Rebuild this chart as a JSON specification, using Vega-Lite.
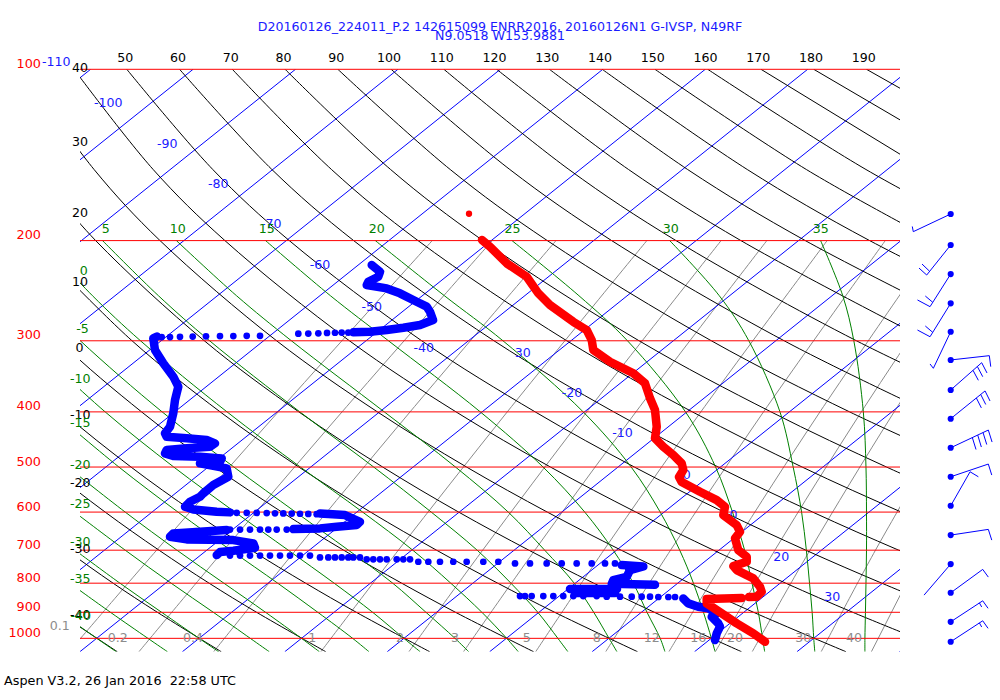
{
"$schema": "https://vega.github.io/schema/vega-lite/v6.json",
"width": 820, "height": 582.4,
"autosize": {"type": "none"},
"padding": {"left": 80, "top": 69.3, "right": 100, "bottom": 48.3},
"background": "white",
"config": {"view": {"stroke": null}, "font": "DejaVu Sans", "axis": {"labelFont": "DejaVu Sans"}, "text": {"font": "DejaVu Sans", "fontSize": 12.5}},
"datasets": {
"plines": [{"u":41.53,"u2":196.95,"p":100},{"u":41.53,"u2":196.95,"p":200},{"u":41.53,"u2":196.95,"p":300},{"u":41.53,"u2":196.95,"p":400},{"u":41.53,"u2":196.95,"p":500},{"u":41.53,"u2":196.95,"p":600},{"u":41.53,"u2":196.95,"p":700},{"u":41.53,"u2":196.95,"p":800},{"u":41.53,"u2":196.95,"p":900},{"u":41.53,"u2":196.95,"p":1000}],
"iso": [
{"id":-110,"u":43.54,"p":100},{"id":-110,"u":-94.39,"p":1055.6},
{"id":-100,"u":62.96,"p":100},{"id":-100,"u":-74.97,"p":1055.6},
{"id":-90,"u":82.37,"p":100},{"id":-90,"u":-55.56,"p":1055.6},
{"id":-80,"u":101.79,"p":100},{"id":-80,"u":-36.14,"p":1055.6},
{"id":-70,"u":121.2,"p":100},{"id":-70,"u":-16.73,"p":1055.6},
{"id":-60,"u":140.62,"p":100},{"id":-60,"u":2.69,"p":1055.6},
{"id":-50,"u":160.04,"p":100},{"id":-50,"u":22.11,"p":1055.6},
{"id":-40,"u":179.45,"p":100},{"id":-40,"u":41.52,"p":1055.6},
{"id":-30,"u":198.87,"p":100},{"id":-30,"u":60.94,"p":1055.6},
{"id":-20,"u":218.28,"p":100},{"id":-20,"u":80.35,"p":1055.6},
{"id":-10,"u":237.7,"p":100},{"id":-10,"u":99.77,"p":1055.6},
{"id":0,"u":257.11,"p":100},{"id":0,"u":119.18,"p":1055.6},
{"id":10,"u":276.53,"p":100},{"id":10,"u":138.6,"p":1055.6},
{"id":20,"u":295.94,"p":100},{"id":20,"u":158.01,"p":1055.6},
{"id":30,"u":315.36,"p":100},{"id":30,"u":177.43,"p":1055.6},
{"id":40,"u":334.77,"p":100},{"id":40,"u":196.84,"p":1055.6}],
"dry": [
{"id":-40,"u":29.6,"p":800},{"id":-40,"u":37.4,"p":900},{"id":-40,"u":48.6,"p":1055.6},
{"id":-30,"u":29.5,"p":600},{"id":-30,"u":39.0,"p":700},{"id":-30,"u":47.8,"p":800},{"id":-30,"u":56.2,"p":900},{"id":-30,"u":68.3,"p":1055.6},
{"id":-20,"u":23.3,"p":400},{"id":-20,"u":35.3,"p":500},{"id":-20,"u":46.3,"p":600},{"id":-20,"u":56.5,"p":700},{"id":-20,"u":66.0,"p":800},{"id":-20,"u":75.0,"p":900},{"id":-20,"u":88.1,"p":1055.6},
{"id":-10,"u":23.9,"p":300},{"id":-10,"u":38.2,"p":400},{"id":-10,"u":51.2,"p":500},{"id":-10,"u":63.1,"p":600},{"id":-10,"u":74.0,"p":700},{"id":-10,"u":84.3,"p":800},{"id":-10,"u":93.9,"p":900},{"id":-10,"u":107.8,"p":1055.6},
{"id":0,"u":20.1,"p":200},{"id":0,"u":37.6,"p":300},{"id":0,"u":53.2,"p":400},{"id":0,"u":67.1,"p":500},{"id":0,"u":79.8,"p":600},{"id":0,"u":91.5,"p":700},{"id":0,"u":102.5,"p":800},{"id":0,"u":112.7,"p":900},{"id":0,"u":127.5,"p":1055.6},
{"id":10,"u":32.3,"p":200},{"id":10,"u":51.4,"p":300},{"id":10,"u":68.1,"p":400},{"id":10,"u":83.0,"p":500},{"id":10,"u":96.6,"p":600},{"id":10,"u":109.1,"p":700},{"id":10,"u":120.7,"p":800},{"id":10,"u":131.5,"p":900},{"id":10,"u":147.2,"p":1055.6},
{"id":20,"u":32.9,"p":150},{"id":20,"u":44.5,"p":200},{"id":20,"u":65.1,"p":300},{"id":20,"u":83.0,"p":400},{"id":20,"u":98.9,"p":500},{"id":20,"u":113.3,"p":600},{"id":20,"u":126.6,"p":700},{"id":20,"u":138.9,"p":800},{"id":20,"u":150.4,"p":900},{"id":20,"u":166.9,"p":1055.6},
{"id":30,"u":30.4,"p":100},{"id":30,"u":44.2,"p":150},{"id":30,"u":56.7,"p":200},{"id":30,"u":78.8,"p":300},{"id":30,"u":97.9,"p":400},{"id":30,"u":114.8,"p":500},{"id":30,"u":130.1,"p":600},{"id":30,"u":144.1,"p":700},{"id":30,"u":157.1,"p":800},{"id":30,"u":169.2,"p":900},{"id":30,"u":186.7,"p":1055.6},
{"id":40,"u":40.4,"p":100},{"id":40,"u":55.4,"p":150},{"id":40,"u":69.0,"p":200},{"id":40,"u":92.6,"p":300},{"id":40,"u":112.8,"p":400},{"id":40,"u":130.7,"p":500},{"id":40,"u":146.9,"p":600},{"id":40,"u":161.6,"p":700},{"id":40,"u":175.3,"p":800},{"id":40,"u":188.0,"p":900},{"id":40,"u":206.4,"p":1055.6},
{"id":50,"u":50.4,"p":100},{"id":50,"u":66.7,"p":150},{"id":50,"u":81.2,"p":200},{"id":50,"u":106.3,"p":300},{"id":50,"u":127.8,"p":400},{"id":50,"u":146.6,"p":500},{"id":50,"u":163.6,"p":600},{"id":50,"u":179.1,"p":700},{"id":50,"u":193.5,"p":800},{"id":50,"u":206.9,"p":900},
{"id":60,"u":60.4,"p":100},{"id":60,"u":77.9,"p":150},{"id":60,"u":93.4,"p":200},{"id":60,"u":120.0,"p":300},{"id":60,"u":142.7,"p":400},{"id":60,"u":162.5,"p":500},{"id":60,"u":180.4,"p":600},{"id":60,"u":196.7,"p":700},{"id":60,"u":211.7,"p":800},
{"id":70,"u":70.4,"p":100},{"id":70,"u":89.2,"p":150},{"id":70,"u":105.6,"p":200},{"id":70,"u":133.8,"p":300},{"id":70,"u":157.6,"p":400},{"id":70,"u":178.4,"p":500},{"id":70,"u":197.2,"p":600},{"id":70,"u":214.2,"p":700},
{"id":80,"u":80.4,"p":100},{"id":80,"u":100.4,"p":150},{"id":80,"u":117.9,"p":200},{"id":80,"u":147.5,"p":300},{"id":80,"u":172.5,"p":400},{"id":80,"u":194.4,"p":500},{"id":80,"u":213.9,"p":600},
{"id":90,"u":90.4,"p":100},{"id":90,"u":111.7,"p":150},{"id":90,"u":130.1,"p":200},{"id":90,"u":161.2,"p":300},{"id":90,"u":187.4,"p":400},{"id":90,"u":210.3,"p":500},
{"id":100,"u":100.5,"p":100},{"id":100,"u":123.0,"p":150},{"id":100,"u":142.3,"p":200},{"id":100,"u":175.0,"p":300},{"id":100,"u":202.4,"p":400},
{"id":110,"u":110.5,"p":100},{"id":110,"u":134.2,"p":150},{"id":110,"u":154.5,"p":200},{"id":110,"u":188.7,"p":300},{"id":110,"u":217.3,"p":400},
{"id":120,"u":120.5,"p":100},{"id":120,"u":145.5,"p":150},{"id":120,"u":166.8,"p":200},{"id":120,"u":202.4,"p":300},
{"id":130,"u":130.5,"p":100},{"id":130,"u":156.7,"p":150},{"id":130,"u":179.0,"p":200},{"id":130,"u":216.2,"p":300},
{"id":140,"u":140.5,"p":100},{"id":140,"u":168.0,"p":150},{"id":140,"u":191.2,"p":200},{"id":140,"u":229.9,"p":300},
{"id":150,"u":150.5,"p":100},{"id":150,"u":179.2,"p":150},{"id":150,"u":203.4,"p":200},
{"id":160,"u":160.5,"p":100},{"id":160,"u":190.5,"p":150},{"id":160,"u":215.7,"p":200},
{"id":170,"u":170.6,"p":100},{"id":170,"u":201.7,"p":150},
{"id":180,"u":180.6,"p":100},{"id":180,"u":213.0,"p":150},
{"id":190,"u":190.6,"p":100},{"id":190,"u":224.2,"p":150}],
"moist": [
{"id":-40,"u":48.4,"p":1055.6},{"id":-40,"u":44.7,"p":1000},{"id":-40,"u":37.7,"p":900},
{"id":-35,"u":58.1,"p":1055.6},{"id":-35,"u":54.4,"p":1000},{"id":-35,"u":47.3,"p":900},{"id":-35,"u":39.6,"p":800},
{"id":-30,"u":67.8,"p":1055.6},{"id":-30,"u":64.1,"p":1000},{"id":-30,"u":57.0,"p":900},{"id":-30,"u":49.1,"p":800},{"id":-30,"u":40.6,"p":700},
{"id":-25,"u":77.4,"p":1055.6},{"id":-25,"u":73.8,"p":1000},{"id":-25,"u":66.8,"p":900},{"id":-25,"u":58.8,"p":800},{"id":-25,"u":50.1,"p":700},{"id":-25,"u":40.5,"p":600},
{"id":-20,"u":86.9,"p":1055.6},{"id":-20,"u":83.5,"p":1000},{"id":-20,"u":76.7,"p":900},{"id":-20,"u":68.8,"p":800},{"id":-20,"u":59.9,"p":700},{"id":-20,"u":50.1,"p":600},{"id":-20,"u":39.2,"p":500},
{"id":-15,"u":96.3,"p":1055.6},{"id":-15,"u":93.2,"p":1000},{"id":-15,"u":86.6,"p":900},{"id":-15,"u":79.0,"p":800},{"id":-15,"u":70.1,"p":700},{"id":-15,"u":60.1,"p":600},{"id":-15,"u":48.9,"p":500},{"id":-15,"u":36.4,"p":400},
{"id":-10,"u":106.0,"p":1055.6},{"id":-10,"u":102.9,"p":1000},{"id":-10,"u":97.0,"p":900},{"id":-10,"u":89.7,"p":800},{"id":-10,"u":81.0,"p":700},{"id":-10,"u":70.9,"p":600},{"id":-10,"u":59.3,"p":500},{"id":-10,"u":46.3,"p":400},{"id":-10,"u":31.6,"p":300},
{"id":-5,"u":115.2,"p":1055.6},{"id":-5,"u":112.6,"p":1000},{"id":-5,"u":107.1,"p":900},{"id":-5,"u":100.8,"p":800},{"id":-5,"u":92.4,"p":700},{"id":-5,"u":82.4,"p":600},{"id":-5,"u":70.7,"p":500},{"id":-5,"u":57.1,"p":400},{"id":-5,"u":41.6,"p":300},{"id":-5,"u":33.1,"p":250},
{"id":0,"u":124.6,"p":1055.6},{"id":0,"u":122.4,"p":1000},{"id":0,"u":117.7,"p":900},{"id":0,"u":111.8,"p":800},{"id":0,"u":104.6,"p":700},{"id":0,"u":95.1,"p":600},{"id":0,"u":83.3,"p":500},{"id":0,"u":69.4,"p":400},{"id":0,"u":53.0,"p":300},{"id":0,"u":43.9,"p":250},{"id":0,"u":34.1,"p":200},
{"id":5,"u":134.0,"p":1055.6},{"id":5,"u":132.1,"p":1000},{"id":5,"u":128.3,"p":900},{"id":5,"u":123.2,"p":800},{"id":5,"u":116.8,"p":700},{"id":5,"u":108.1,"p":600},{"id":5,"u":97.2,"p":500},{"id":5,"u":83.2,"p":400},{"id":5,"u":66.1,"p":300},{"id":5,"u":56.4,"p":250},{"id":5,"u":45.8,"p":200},
{"id":10,"u":143.3,"p":1055.6},{"id":10,"u":141.8,"p":1000},{"id":10,"u":138.9,"p":900},{"id":10,"u":135.2,"p":800},{"id":10,"u":129.6,"p":700},{"id":10,"u":122.7,"p":600},{"id":10,"u":112.7,"p":500},{"id":10,"u":99.2,"p":400},{"id":10,"u":81.6,"p":300},{"id":10,"u":71.2,"p":250},{"id":10,"u":59.8,"p":200},
{"id":15,"u":152.4,"p":1055.6},{"id":15,"u":151.5,"p":1000},{"id":15,"u":149.0,"p":900},{"id":15,"u":146.4,"p":800},{"id":15,"u":142.6,"p":700},{"id":15,"u":137.2,"p":600},{"id":15,"u":129.3,"p":500},{"id":15,"u":117.4,"p":400},{"id":15,"u":100.0,"p":300},{"id":15,"u":89.0,"p":250},{"id":15,"u":76.7,"p":200},
{"id":20,"u":161.9,"p":1055.6},{"id":20,"u":161.2,"p":1000},{"id":20,"u":159.7,"p":900},{"id":20,"u":157.8,"p":800},{"id":20,"u":155.2,"p":700},{"id":20,"u":151.5,"p":600},{"id":20,"u":146.0,"p":500},{"id":20,"u":136.9,"p":400},{"id":20,"u":121.7,"p":300},{"id":20,"u":110.6,"p":250},{"id":20,"u":97.5,"p":200},
{"id":25,"u":171.3,"p":1055.6},{"id":25,"u":170.9,"p":1000},{"id":25,"u":170.1,"p":900},{"id":25,"u":168.9,"p":800},{"id":25,"u":167.5,"p":700},{"id":25,"u":165.2,"p":600},{"id":25,"u":162.0,"p":500},{"id":25,"u":156.3,"p":400},{"id":25,"u":145.3,"p":300},{"id":25,"u":136.1,"p":250},{"id":25,"u":123.4,"p":200},
{"id":30,"u":180.8,"p":1055.6},{"id":30,"u":180.6,"p":1000},{"id":30,"u":180.3,"p":900},{"id":30,"u":179.8,"p":800},{"id":30,"u":179.2,"p":700},{"id":30,"u":178.3,"p":600},{"id":30,"u":176.7,"p":500},{"id":30,"u":174.2,"p":400},{"id":30,"u":168.3,"p":300},{"id":30,"u":162.7,"p":250},{"id":30,"u":153.3,"p":200},
{"id":35,"u":190.3,"p":1055.6},{"id":35,"u":190.3,"p":1000},{"id":35,"u":190.4,"p":900},{"id":35,"u":190.5,"p":800},{"id":35,"u":190.6,"p":700},{"id":35,"u":190.6,"p":600},{"id":35,"u":190.5,"p":500},{"id":35,"u":190.0,"p":400},{"id":35,"u":188.2,"p":300},{"id":35,"u":186.1,"p":250},{"id":35,"u":181.9,"p":200}],
"mixr": [
{"id":0.1,"u":39.46,"p":1055.6},{"id":0.1,"u":56.05,"p":700},{"id":0.1,"u":79.1,"p":400},{"id":0.1,"u":108.29,"p":200},
{"id":0.2,"u":52.71,"p":1055.6},{"id":0.2,"u":68.79,"p":700},{"id":0.2,"u":91.2,"p":400},{"id":0.2,"u":119.66,"p":200},
{"id":0.4,"u":66.87,"p":1055.6},{"id":0.4,"u":82.4,"p":700},{"id":0.4,"u":104.09,"p":400},{"id":0.4,"u":131.75,"p":200},
{"id":1,"u":87.18,"p":1055.6},{"id":1,"u":101.87,"p":700},{"id":1,"u":122.51,"p":400},{"id":1,"u":148.97,"p":200},
{"id":2,"u":103.87,"p":1055.6},{"id":2,"u":117.85,"p":700},{"id":2,"u":137.59,"p":400},{"id":2,"u":163.04,"p":200},
{"id":3,"u":114.22,"p":1055.6},{"id":3,"u":127.74,"p":700},{"id":3,"u":146.9,"p":400},{"id":3,"u":171.71,"p":200},
{"id":5,"u":127.9,"p":1055.6},{"id":5,"u":140.81,"p":700},{"id":5,"u":159.2,"p":400},{"id":5,"u":183.14,"p":200},
{"id":8,"u":141.17,"p":1055.6},{"id":8,"u":153.46,"p":700},{"id":8,"u":171.08,"p":400},{"id":8,"u":194.16,"p":200},
{"id":12,"u":153.15,"p":1055.6},{"id":12,"u":164.87,"p":700},{"id":12,"u":181.78,"p":400},{"id":12,"u":204.06,"p":200},
{"id":16,"u":161.95,"p":1055.6},{"id":16,"u":173.24,"p":700},{"id":16,"u":189.62,"p":400},{"id":16,"u":211.31,"p":200},
{"id":20,"u":168.94,"p":1055.6},{"id":20,"u":179.89,"p":700},{"id":20,"u":195.84,"p":400},{"id":20,"u":217.05,"p":200},
{"id":30,"u":182.01,"p":1055.6},{"id":30,"u":192.3,"p":700},{"id":30,"u":207.44,"p":400},
{"id":40,"u":191.53,"p":1055.6},{"id":40,"u":201.34,"p":700}],
"lab_blue": [
{"u":37.04,"p":97.1,"t":"-110"},{"u":46.89,"p":114.5,"t":"-100"},{"u":58.07,"p":135.3,"t":"-90"},{"u":67.74,"p":159.3,"t":"-80"},{"u":77.79,"p":187.0,"t":"-70"},{"u":87.02,"p":220.8,"t":"-60"},{"u":96.82,"p":261.3,"t":"-50"},{"u":106.69,"p":308.5,"t":"-40"},{"u":125.46,"p":314.8,"t":"30"},{"u":134.78,"p":370.1,"t":"-20"},{"u":144.35,"p":436.3,"t":"-10"},{"u":156.52,"p":515.9,"t":"0"},{"u":164.63,"p":608.1,"t":"10"},{"u":174.43,"p":719.0,"t":"20"},{"u":184.1,"p":847.4,"t":"30"}],
"lab_black": [
{"u":41.53,"p":99.5,"t":"40"},{"u":41.53,"p":134.2,"t":"30"},{"u":41.53,"p":178.9,"t":"20"},{"u":41.53,"p":236.3,"t":"10"},{"u":41.43,"p":309.2,"t":"0"},{"u":41.59,"p":405.1,"t":"-10"},{"u":41.59,"p":534.2,"t":"-20"},{"u":41.59,"p":697.8,"t":"-30"},{"u":41.59,"p":910,"t":"-40"}],
"lab_green": [
{"u":42.23,"p":225.9,"t":"0"},{"u":42.0,"p":286.1,"t":"-5"},{"u":41.59,"p":349.7,"t":"-10"},{"u":41.59,"p":419.0,"t":"-15"},{"u":41.59,"p":496.0,"t":"-20"},{"u":41.59,"p":581.6,"t":"-25"},{"u":41.59,"p":676.6,"t":"-30"},{"u":41.59,"p":787.8,"t":"-35"},{"u":41.68,"p":912.8,"t":"-40"},
{"u":46.42,"p":190.6,"t":"5"},{"u":60.05,"p":190.6,"t":"10"},{"u":76.92,"p":190.6,"t":"15"},{"u":97.78,"p":190.6,"t":"20"},{"u":123.5,"p":190.6,"t":"25"},{"u":153.51,"p":190.6,"t":"30"},{"u":181.94,"p":190.6,"t":"35"}],
"lab_gray": [
{"u":37.68,"p":950.3,"t":"0.1"},{"u":48.69,"p":1000,"t":"0.2"},{"u":62.95,"p":1000,"t":"0.4"},{"u":85.56,"p":1000,"t":"1"},{"u":102.18,"p":1000,"t":"2"},{"u":112.61,"p":1000,"t":"3"},{"u":126.2,"p":1000,"t":"5"},{"u":139.46,"p":1000,"t":"8"},{"u":149.89,"p":1000,"t":"12"},{"u":158.72,"p":1000,"t":"16"},{"u":165.68,"p":1000,"t":"20"},{"u":178.62,"p":1000,"t":"30"},{"u":188.24,"p":1000,"t":"40"}],
"titles": [{"u":121.14,"p":84.28,"t":"D20160126_224011_P.2 142615099 ENRR2016, 20160126N1 G-IVSP, N49RF"},{"u":121.14,"p":87.38,"t":"N9.0518 W153.9881"}],
"footer": [{"u":27.12,"p":1187.3,"t":"Aspen V3.2, 26 Jan 2016\u00a0 22:58 UTC"}],
"dew": [
{"s":1,"u":96.82,"p":220.8},{"s":1,"u":98.39,"p":226.9},{"s":1,"u":98.07,"p":231.5},{"s":1,"u":96.17,"p":236.3},{"s":1,"u":95.87,"p":239.4},{"s":1,"u":99.66,"p":242.7},{"s":1,"u":102.18,"p":247.6},{"s":1,"u":105.35,"p":256.2},{"s":1,"u":107.24,"p":261.3},{"s":1,"u":107.87,"p":266.7},{"s":1,"u":108.44,"p":275.8},{"s":1,"u":105.97,"p":281.5},{"s":1,"u":102.81,"p":284.6},{"s":1,"u":99.66,"p":287.2},{"s":1,"u":96.5,"p":289.2},{"s":1,"u":93.33,"p":289.9},
{"s":2,"u":56.12,"p":294.9},{"s":2,"u":55.42,"p":297.1},{"s":2,"u":55.74,"p":311.4},{"s":2,"u":57.32,"p":328.6},{"s":2,"u":59.21,"p":346.9},{"s":2,"u":60.16,"p":361.2},{"s":2,"u":59.54,"p":381.1},{"s":2,"u":59.21,"p":402.3},{"s":2,"u":58.59,"p":424.8},{"s":2,"u":57.64,"p":436.3},{"s":2,"u":57.96,"p":442.4},{"s":2,"u":61.75,"p":445.2},{"s":2,"u":65.54,"p":448.3},{"s":2,"u":67.12,"p":454.3},{"s":2,"u":66.17,"p":460.6},{"s":2,"u":61.75,"p":463.6},{"s":2,"u":57.96,"p":466.8},{"s":2,"u":57.64,"p":473.1},{"s":2,"u":59.21,"p":478.3},{"s":2,"u":64.27,"p":479.7},{"s":2,"u":68.39,"p":482.8},{"s":2,"u":68.06,"p":489.5},{"s":2,"u":64.27,"p":492.6},{"s":2,"u":65.54,"p":495.0},{"s":2,"u":69.33,"p":502.7},{"s":2,"u":69.64,"p":520.1},{"s":2,"u":66.79,"p":537.9},{"s":2,"u":64.9,"p":556.2},{"s":2,"u":64.27,"p":563.9},{"s":2,"u":62.38,"p":575.5},{"s":2,"u":61.43,"p":587.3},{"s":2,"u":63.0,"p":593.5},{"s":2,"u":67.44,"p":599.3},{"s":2,"u":69.96,"p":600.7},
{"s":3,"u":87.02,"p":603.2},{"s":3,"u":91.76,"p":607.3},{"s":3,"u":94.6,"p":624.0},{"s":3,"u":93.97,"p":632.4},{"s":3,"u":90.18,"p":636.7},{"s":3,"u":87.02,"p":640.9},{"s":3,"u":81.96,"p":642.7},
{"s":4,"u":69.33,"p":645.3},{"s":4,"u":64.27,"p":649.8},{"s":4,"u":59.21,"p":654.0},{"s":4,"u":58.59,"p":663.1},{"s":4,"u":61.75,"p":670.1},{"s":4,"u":70.59,"p":672.0},{"s":4,"u":74.38,"p":681.0},{"s":4,"u":74.7,"p":693.2},{"s":4,"u":70.59,"p":701.7},{"s":4,"u":68.06,"p":705.4},{"s":4,"u":67.44,"p":714.0},
{"s":5,"u":144.2,"p":743.5},{"s":5,"u":148.3,"p":747.4},{"s":5,"u":145.77,"p":758.7},{"s":5,"u":145.15,"p":779.6},{"s":5,"u":142.61,"p":790.0},{"s":5,"u":142.31,"p":802.0},{"s":5,"u":150.51,"p":805.2},
{"s":6,"u":134.4,"p":819.4},{"s":6,"u":143.31,"p":819.4},
{"s":7,"u":135.35,"p":832.8},{"s":7,"u":142.93,"p":832.8},
{"s":8,"u":155.88,"p":850.8},{"s":8,"u":156.83,"p":868.2},{"s":8,"u":158.72,"p":879.9},{"s":8,"u":160.62,"p":885.6},{"s":8,"u":162.21,"p":904.0},{"s":8,"u":161.26,"p":916.5},{"s":8,"u":162.51,"p":941.3},{"s":8,"u":162.84,"p":954.1},{"s":8,"u":162.21,"p":980.0},{"s":8,"u":161.89,"p":1006.9}],
"dewdots": [
{"u":92.38,"p":290.2},{"u":91.13,"p":290.2},{"u":89.86,"p":290.4},{"u":88.35,"p":290.6},{"u":86.7,"p":291.1},{"u":84.8,"p":291.3},{"u":82.91,"p":291.5},{"u":75.65,"p":294.0},{"u":73.13,"p":294.0},{"u":70.59,"p":294.3},{"u":68.06,"p":294.3},{"u":65.41,"p":294.6},{"u":62.89,"p":294.9},{"u":60.48,"p":295.2},{"u":58.59,"p":295.5},{"u":57.01,"p":295.5},
{"u":71.23,"p":601.7},{"u":73.13,"p":601.7},{"u":75.02,"p":602.0},{"u":76.92,"p":602.5},{"u":78.49,"p":603.0},{"u":80.06,"p":603.2},{"u":81.66,"p":603.5},{"u":83.23,"p":604.0},{"u":84.8,"p":604.5},{"u":86.39,"p":605.0},
{"u":80.71,"p":644.0},{"u":78.81,"p":644.0},{"u":77.22,"p":644.0},{"u":75.65,"p":644.0},{"u":73.75,"p":644.0},{"u":71.86,"p":644.0},{"u":69.96,"p":644.0},
{"u":69.96,"p":715.4},{"u":71.86,"p":715.4},{"u":73.75,"p":715.4},{"u":75.65,"p":715.4},{"u":77.54,"p":715.4},{"u":79.44,"p":715.4},{"u":81.33,"p":715.4},{"u":83.23,"p":715.4},{"u":85.12,"p":715.4},
{"u":87.02,"p":720.7},{"u":88.59,"p":720.7},{"u":89.86,"p":720.7},{"u":91.13,"p":720.7},{"u":92.38,"p":720.7},{"u":93.33,"p":720.7},{"u":94.6,"p":720.7},
{"u":95.87,"p":726.5},{"u":97.12,"p":726.5},{"u":98.39,"p":726.5},{"u":99.66,"p":726.5},{"u":101.56,"p":726.5},{"u":102.81,"p":726.5},{"u":104.08,"p":726.5},
{"u":105.65,"p":733.6},{"u":107.55,"p":733.6},{"u":109.76,"p":733.6},{"u":112.28,"p":733.6},{"u":114.82,"p":733.6},{"u":117.97,"p":733.6},{"u":120.81,"p":733.6},
{"u":123.98,"p":738.4},{"u":126.82,"p":738.4},{"u":129.98,"p":738.4},{"u":132.83,"p":738.4},{"u":135.67,"p":738.4},{"u":138.52,"p":738.4},{"u":141.04,"p":738.4},{"u":142.93,"p":738.4},
{"u":124.93,"p":842.9},{"u":125.87,"p":842.9},{"u":127.14,"p":842.9},{"u":129.34,"p":842.9},{"u":131.24,"p":842.9},{"u":133.13,"p":842.9},{"u":135.03,"p":842.9},{"u":136.92,"p":842.9},{"u":139.46,"p":842.9},{"u":141.36,"p":845},{"u":143.88,"p":845},{"u":146.1,"p":845},{"u":147.99,"p":845},{"u":149.57,"p":845},{"u":151.14,"p":846},{"u":153.04,"p":846},{"u":154.31,"p":846}],
"temp": [
{"s":1,"u":117.72,"p":199.5},{"s":1,"u":119.24,"p":205.0},{"s":1,"u":122.41,"p":219.3},{"s":1,"u":126.2,"p":231.5},{"s":1,"u":128.4,"p":247.6},{"s":1,"u":130.61,"p":259.6},{"s":1,"u":135.03,"p":277.8},{"s":1,"u":137.57,"p":287.2},{"s":1,"u":138.52,"p":299.1},{"s":1,"u":138.82,"p":311.4},{"s":1,"u":141.98,"p":326.5},{"s":1,"u":146.4,"p":342.1},{"s":1,"u":148.62,"p":356.3},{"s":1,"u":149.57,"p":378.5},{"s":1,"u":150.51,"p":396.8},{"s":1,"u":150.84,"p":424.8},{"s":1,"u":150.51,"p":445.2},{"s":1,"u":152.09,"p":460.6},{"s":1,"u":153.98,"p":476.4},{"s":1,"u":155.57,"p":492.6},{"s":1,"u":155.88,"p":506.2},{"s":1,"u":155.06,"p":520.7},{"s":1,"u":155.57,"p":531.4},{"s":1,"u":159.04,"p":552.7},{"s":1,"u":162.21,"p":571.6},{"s":1,"u":163.78,"p":587.3},{"s":1,"u":163.46,"p":607.3},{"s":1,"u":166.0,"p":632.4},{"s":1,"u":166.63,"p":649.8},{"s":1,"u":165.68,"p":667.4},{"s":1,"u":166.3,"p":699.7},{"s":1,"u":167.9,"p":718.9},{"s":1,"u":167.9,"p":733.6},{"s":1,"u":165.36,"p":746.5},{"s":1,"u":166.0,"p":758.7},{"s":1,"u":169.15,"p":784.6},{"s":1,"u":170.42,"p":811.8},{"s":1,"u":170.74,"p":828.4},{"s":1,"u":169.79,"p":845.3},{"s":1,"u":168.3,"p":846.3},
{"s":2,"u":166.95,"p":849.6},{"s":2,"u":160.31,"p":853.2},{"s":2,"u":160.31,"p":868.2},{"s":2,"u":163.16,"p":904.0},{"s":2,"u":166.0,"p":941.3},{"s":2,"u":169.15,"p":980.0},{"s":2,"u":171.37,"p":1013.9}],
"tempdots": [{"u":115.26,"p":179.4}],
"barbs": [
{"u":206.56,"p":179.6,"u2":199.47,"p2":192.9},{"u":199.47,"p":192.9,"u2":199.28,"p2":188.9},
{"u":206.56,"p":203.6,"u2":202.01,"p2":229.9},{"u":202.01,"p":229.9,"u2":200.55,"p2":223.5},{"u":202.51,"p":226.2,"u2":201.12,"p2":219.9},
{"u":206.56,"p":229.0,"u2":202.64,"p2":261.3},{"u":202.64,"p":261.3,"u2":200.26,"p2":254.3},{"u":203.15,"p":256.7,"u2":201.75,"p2":250.3},
{"u":206.56,"p":257.8,"u2":202.64,"p2":295.1},{"u":202.64,"p":295.1,"u2":200.26,"p2":287.2},{"u":203.15,"p":289.9,"u2":201.75,"p2":282.6},
{"u":206.56,"p":289.2,"u2":203.27,"p2":335.3},{"u":203.27,"p":335.3,"u2":202.64,"p2":329.5},
{"u":206.56,"p":324.2,"u2":213.88,"p2":318.6},{"u":213.88,"p":318.6,"u2":214.15,"p2":333.1},
{"u":206.56,"p":366.1,"u2":212.43,"p2":327.8},{"u":212.43,"p":327.8,"u2":213.44,"p2":341.7},{"u":211.61,"p":332.9,"u2":212.63,"p2":346.9},{"u":210.79,"p":338.1,"u2":211.8,"p2":352.0},
{"u":206.56,"p":411.2,"u2":213.07,"p2":367.5},{"u":213.07,"p":367.5,"u2":214.01,"p2":382.7},{"u":212.25,"p":372.8,"u2":213.2,"p2":388.2},{"u":211.42,"p":378.1,"u2":212.37,"p2":393.6},
{"u":206.56,"p":462.5,"u2":213.69,"p2":430.5},{"u":213.69,"p":430.5,"u2":214.4,"p2":451.9},{"u":212.69,"p":434.9,"u2":213.39,"p2":456.5},{"u":211.68,"p":439.3,"u2":212.37,"p2":461.1},{"u":210.66,"p":443.8,"u2":211.36,"p2":465.8},
{"u":206.56,"p":520.1,"u2":213.69,"p2":494.0},{"u":213.69,"p":494.0,"u2":214.34,"p2":516.5},
{"u":206.56,"p":584.9,"u2":210.23,"p2":509.7},{"u":210.23,"p":509.7,"u2":211.8,"p2":520.1},
{"u":206.56,"p":658.5,"u2":213.69,"p2":643.5},{"u":213.69,"p":643.5,"u2":214.34,"p2":672.0},
{"u":206.56,"p":740.5,"u2":201.51,"p2":839.5},
{"u":206.56,"p":831.7,"u2":212.63,"p2":756.6},{"u":212.63,"p":756.6,"u2":213.69,"p2":780.5},
{"u":206.56,"p":935.3,"u2":212.63,"p2":859.1},{"u":212.63,"p":859.1,"u2":213.64,"p2":885.6},{"u":211.99,"p":866.1,"u2":212.43,"p2":880.9},
{"u":206.56,"p":1013.9,"u2":212.63,"p2":931.5},{"u":212.63,"p":931.5,"u2":213.64,"p2":960.4},{"u":211.99,"p":939.1,"u2":212.43,"p2":955.3}],
"barbdots": [{"u":206.56,"p":179.6},{"u":206.56,"p":203.6},{"u":206.56,"p":229.0},{"u":206.56,"p":257.8},{"u":206.56,"p":289.2},{"u":206.56,"p":324.2},{"u":206.56,"p":366.1},{"u":206.56,"p":411.2},{"u":206.56,"p":462.5},{"u":206.56,"p":520.1},{"u":206.56,"p":584.9},{"u":206.56,"p":658.5},{"u":206.56,"p":740.5},{"u":206.56,"p":831.7},{"u":206.56,"p":935.3},{"u":206.56,"p":1013.9}]
},
"encoding": {
"x": {"field": "u", "type": "quantitative", "scale": {"domain": [41.53, 196.95], "nice": false, "zero": false},
 "axis": {"orient": "top", "values": [50,60,70,80,90,100,110,120,130,140,150,160,170,180,190], "title": null, "domain": false, "ticks": false, "tickSize": 0, "grid": false, "labelFontSize": 12.6, "labelColor": "black", "labelPadding": 5, "format": "d"}},
"y": {"field": "p", "type": "quantitative", "scale": {"type": "log", "domain": [100, 1055.6], "reverse": true, "nice": false, "zero": false},
 "axis": {"orient": "left", "values": [100,200,300,400,500,600,700,800,900,1000], "title": null, "domain": false, "ticks": false, "tickSize": 0, "grid": false, "labelFontSize": 12.8, "labelColor": "red", "labelPadding": 39.5, "labelBaseline": "middle", "labelOffset": -6, "format": "d"}}
},
"layer": [
{"data": {"name": "mixr"}, "mark": {"type": "line", "clip": true, "color": "#8a8a8a", "strokeWidth": 1, "interpolate": "catmull-rom"}, "encoding": {"detail": {"field": "id"}, "order": {"value": null}}},
{"data": {"name": "iso"}, "mark": {"type": "line", "clip": true, "color": "#0000ff", "strokeWidth": 1}, "encoding": {"detail": {"field": "id"}, "order": {"value": null}}},
{"data": {"name": "dry"}, "mark": {"type": "line", "clip": true, "color": "#000000", "strokeWidth": 1, "interpolate": "catmull-rom"}, "encoding": {"detail": {"field": "id"}, "order": {"value": null}}},
{"data": {"name": "moist"}, "mark": {"type": "line", "clip": true, "color": "#008000", "strokeWidth": 1, "interpolate": "catmull-rom"}, "encoding": {"detail": {"field": "id"}, "order": {"value": null}}},
{"data": {"name": "plines"}, "mark": {"type": "rule", "color": "#ff0000", "strokeWidth": 1}, "encoding": {"x2": {"field": "u2"}}},
{"data": {"name": "lab_blue"}, "mark": {"type": "text", "color": "#1a1aff", "fontSize": 12.6, "align": "center", "baseline": "middle"}, "encoding": {"text": {"field": "t"}}},
{"data": {"name": "lab_black"}, "mark": {"type": "text", "color": "#000000", "fontSize": 12.6, "align": "center", "baseline": "middle"}, "encoding": {"text": {"field": "t"}}},
{"data": {"name": "lab_green"}, "mark": {"type": "text", "color": "#008000", "fontSize": 12.6, "align": "center", "baseline": "middle"}, "encoding": {"text": {"field": "t"}}},
{"data": {"name": "lab_gray"}, "mark": {"type": "text", "color": "#8c8c8c", "fontSize": 12.6, "align": "center", "baseline": "middle"}, "encoding": {"text": {"field": "t"}}},
{"data": {"name": "titles"}, "mark": {"type": "text", "color": "#1a1aff", "fontSize": 12.6, "align": "center", "baseline": "middle"}, "encoding": {"text": {"field": "t"}}},
{"data": {"name": "footer"}, "mark": {"type": "text", "color": "#000000", "fontSize": 12.8, "align": "left", "baseline": "middle"}, "encoding": {"text": {"field": "t"}}},
{"data": {"name": "dew"}, "mark": {"type": "line", "color": "#0000ff", "strokeWidth": 8.5, "strokeCap": "round", "strokeJoin": "round"}, "encoding": {"detail": {"field": "s"}, "order": {"value": null}}},
{"data": {"name": "dewdots"}, "mark": {"type": "circle", "color": "#0000ff", "size": 45, "opacity": 1}},
{"data": {"name": "temp"}, "mark": {"type": "line", "color": "#ff0000", "strokeWidth": 8.5, "strokeCap": "round", "strokeJoin": "round"}, "encoding": {"detail": {"field": "s"}, "order": {"value": null}}},
{"data": {"name": "tempdots"}, "mark": {"type": "circle", "color": "#ff0000", "size": 40, "opacity": 1}},
{"data": {"name": "barbs"}, "mark": {"type": "rule", "color": "#0000ff", "strokeWidth": 1}, "encoding": {"x2": {"field": "u2"}, "y2": {"field": "p2"}}},
{"data": {"name": "barbdots"}, "mark": {"type": "circle", "color": "#0000ff", "size": 38, "opacity": 1}}
]
}
